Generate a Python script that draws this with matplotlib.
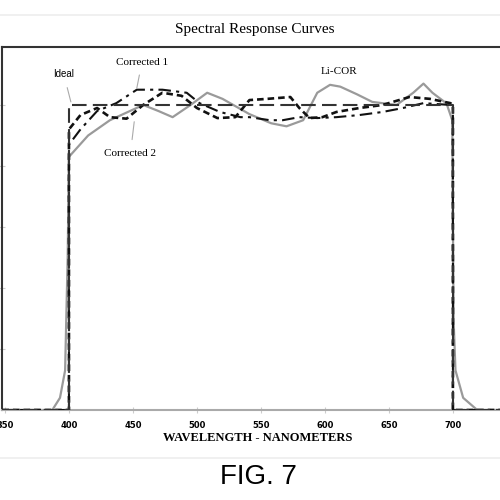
import numpy as np
import matplotlib
matplotlib.use("Agg")
from matplotlib import pyplot as plt

# wavelength (nm) and relative response
ideal_wl = [348, 400, 400, 700, 700, 750]
ideal_resp = [0, 0, 1.0, 1.0, 0, 0]

licor_wl = [348, 387, 393, 397, 399, 400, 415, 432, 458, 470, 481, 495, 508, 520, 541, 558, 570,
            583, 594, 604, 612, 625, 637, 656, 669, 677, 684, 695, 699.5, 700.5, 702, 708, 719, 750]
licor_resp = [0, 0, 0.04, 0.13, 0.5, 0.83, 0.9, 0.95, 1.0, 0.98, 0.96, 1.0, 1.04, 1.02, 0.97,
              0.94, 0.93, 0.95, 1.04, 1.066, 1.06, 1.035, 1.01, 1.0, 1.04, 1.07, 1.04, 1.005,
              0.95, 0.3, 0.13, 0.04, 0, 0]

corr1_wl = [348, 400, 400, 409, 422, 437, 453, 473, 492, 502, 518, 534, 541, 557, 567, 580,
            594, 609, 627, 645, 661, 677, 698, 700, 700, 750]
corr1_resp = [0, 0, 0.87, 0.92, 0.98, 1.006, 1.05, 1.05, 1.04, 1.006, 0.977, 0.96, 0.96, 0.95,
              0.95, 0.96, 0.957, 0.96, 0.967, 0.977, 0.99, 1.006, 1.0, 1.0, 0, 0]

corr2_wl = [348, 400, 400, 409, 422, 432, 445, 458, 473, 488, 500, 516, 530, 541, 555, 573,
            580, 588, 598, 609, 627, 645, 666, 682, 698, 700, 700, 750]
corr2_resp = [0, 0, 0.92, 0.967, 0.99, 0.96, 0.955, 1.0, 1.04, 1.03, 0.99, 0.957, 0.96, 1.016,
              1.02, 1.026, 0.99, 0.957, 0.96, 0.977, 0.99, 1.0, 1.026, 1.02, 1.006, 1.0, 0, 0]

x_ticks = [350, 400, 450, 500, 550, 600, 650, 700]

fig = plt.figure(figsize=(5, 5), dpi=100)
ax = fig.add_axes([0.0048, 0.18, 1.029, 0.726])

ax.plot(licor_wl, licor_resp, color="#9a9a9a", lw=1.6, zorder=2)
ax.plot(corr1_wl, corr1_resp, color="#111111", lw=1.5, dashes=(6, 2.5, 1.5, 2.5), zorder=3)
ax.plot(corr2_wl, corr2_resp, color="#111111", lw=1.9, dashes=(2.5, 1.5), zorder=3)
ax.plot(ideal_wl, ideal_resp, color="#333333", lw=1.5, dashes=(7, 3), zorder=4)

ax.set_xlim(348, 750)
ax.set_ylim(0, 1.19)
ax.set_xticks(x_ticks)
ax.set_xticklabels([str(t) for t in x_ticks], fontsize=6, fontweight="bold",
                   family="DejaVu Sans")
ax.set_yticks([0.2, 0.4, 0.6, 0.8, 1.0])
ax.set_yticklabels([])
ax.tick_params(axis="x", direction="inout", length=4, color="#cccccc", pad=6)
ax.tick_params(axis="y", direction="inout", length=5, color="#cccccc")

ax.spines["right"].set_visible(False)
ax.spines["left"].set_color("#333333")
ax.spines["left"].set_linewidth(1.5)
ax.spines["top"].set_color("#333333")
ax.spines["top"].set_linewidth(1.5)
ax.spines["bottom"].set_color("#aaaaaa")
ax.spines["bottom"].set_linewidth(1.5)

# labels with pointer lines
ax.annotate("Ideal", xy=(401.5, 1.01), xytext=(396, 1.1), fontsize=7, family="Liberation Sans",
            ha="center", va="center",
            arrowprops=dict(arrowstyle="-", color="#aaaaaa", lw=0.8, shrinkA=4, shrinkB=0))
ax.annotate("Corrected 1", xy=(453, 1.055), xytext=(457, 1.14), fontsize=8,
            family="Liberation Serif", ha="center", va="center",
            arrowprops=dict(arrowstyle="-", color="#aaaaaa", lw=0.8, shrinkA=4, shrinkB=0))
ax.annotate("Corrected 2", xy=(451, 0.945), xytext=(448, 0.84), fontsize=8,
            family="Liberation Serif", ha="center", va="center",
            arrowprops=dict(arrowstyle="-", color="#aaaaaa", lw=0.8, shrinkA=5, shrinkB=0))
ax.text(611, 1.11, "Li-COR", fontsize=8, family="Liberation Serif", ha="center", va="center")

fig.text(0.51, 0.94, "Spectral Response Curves", fontsize=11, family="Liberation Serif",
         ha="center", va="center")
fig.text(0.516, 0.124, "WAVELENGTH - NANOMETERS", fontsize=9, family="Liberation Serif",
         fontweight="bold", ha="center", va="center")
fig.text(0.516, 0.045, "FIG. 7", fontsize=20, family="Liberation Sans", ha="center",
         va="center")

# light separator rules
fig.add_artist(plt.Line2D([0, 1], [0.97, 0.97], color="#eeeeee", lw=1.2))
fig.add_artist(plt.Line2D([0, 1], [0.084, 0.084], color="#eeeeee", lw=1.2))

fig.savefig("out.png", dpi=100)
